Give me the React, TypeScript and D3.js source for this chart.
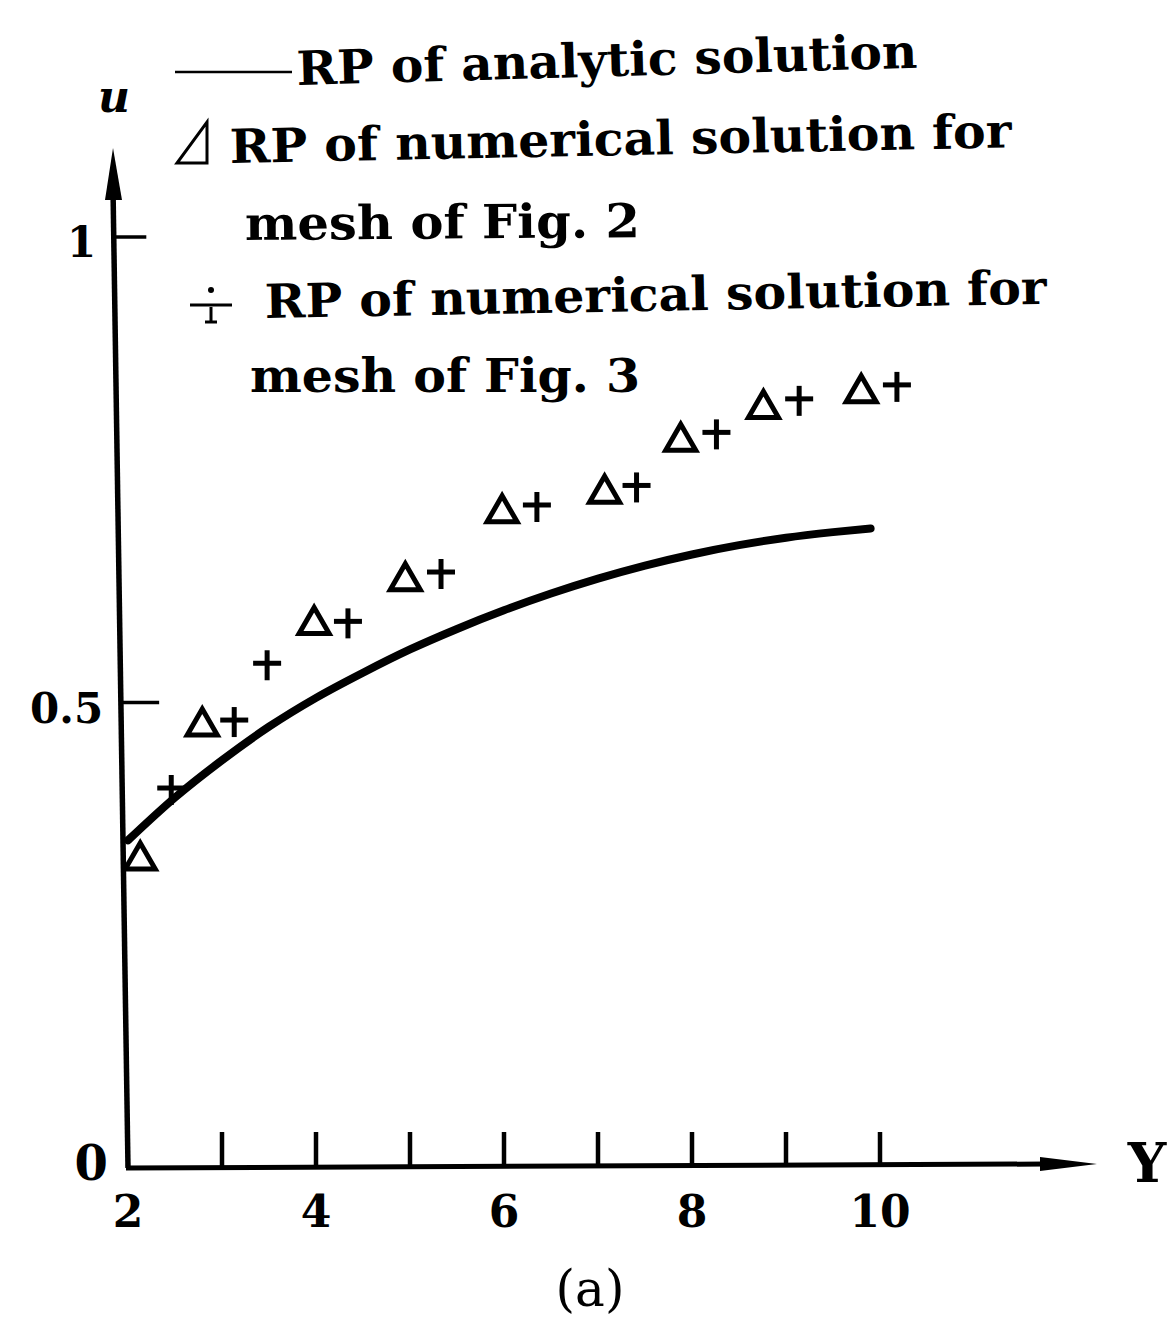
import React from "react";
import * as d3 from "d3";

// Analytic solution curve (RP vs Y)
const curveY = [2, 2.5, 3, 3.5, 4, 4.5, 5, 5.5, 6, 6.5, 7, 7.5, 8, 8.5, 9, 9.5, 9.9];
const curveU = [0.352, 0.398, 0.438, 0.474, 0.505, 0.532, 0.557, 0.579, 0.599, 0.617, 0.633, 0.647, 0.659, 0.669, 0.677, 0.683, 0.687];

// Numerical solution, mesh of Fig. 2 (triangles)
const triY = [2.13, 2.79, 3.98, 4.95, 5.98, 7.07, 7.88, 8.76, 9.8];
const triU = [0.335, 0.479, 0.588, 0.635, 0.708, 0.729, 0.785, 0.82, 0.837];

// Numerical solution, mesh of Fig. 3 (crosses)
const plusY = [2.46, 3.13, 3.48, 4.34, 5.33, 6.35, 7.41, 8.26, 9.14, 10.18];
const plusU = [0.406, 0.479, 0.54, 0.585, 0.638, 0.71, 0.731, 0.788, 0.824, 0.839];

// Axis ticks
const xTicks = [3, 4, 5, 6, 7, 8, 9, 10];
const xTickLabels = ["2", "4", "6", "8", "10"];
const yTickValues = [1, 0.5];
const yTickLabels = ["1", "0.5"];

// Legend texts
const legendLines = [
  "RP of analytic solution",
  "RP of numerical solution for",
  "mesh of Fig. 2",
  "RP of numerical solution for",
  "mesh of Fig. 3",
];

const W = 1171;
const H = 1322;
const serif = "'DejaVu Serif', 'Liberation Serif', serif";

export default function App() {
  const x = d3.scaleLinear().domain([2, 10]).range([128, 880]);
  const y = d3.scaleLinear().domain([0, 1]).range([1168, 237]);

  // the vertical axis leans slightly to the left toward its top
  const axisBottom = { x: x(2), y: y(0) };
  const axisTop = { x: x(2) - 15, y: 148 };
  const axisXAt = (py: number) =>
    axisBottom.x + ((axisBottom.y - py) / (axisBottom.y - axisTop.y)) * (axisTop.x - axisBottom.x);

  const line = d3
    .line<number>()
    .x((_, i) => x(curveY[i]))
    .y((d) => y(d))
    .curve(d3.curveMonotoneX);

  const triPath = (cx: number, cy: number) => {
    const w = 15, h = 13;
    return `M${cx - w},${cy + h}L${cx},${cy - h}L${cx + w},${cy + h}Z`;
  };

  const legendLayout = [
    { x: 297, y: 85, len: 621, rot: -1.6 },
    { x: 230, y: 163, len: 782, rot: -1.15 },
    { x: 245, y: 240, len: 395, rot: -0.4 },
    { x: 265, y: 318, len: 782, rot: -1.05 },
    { x: 250, y: 392, len: 390, rot: 0 },
  ];

  return (
    <svg
      width={W}
      height={H}
      viewBox={`0 0 ${W} ${H}`}
      style={{ position: "absolute", left: 0, top: 0, display: "block", background: "#fff" }}
    >
      <rect x={0} y={0} width={W} height={H} fill="#fff" />

      {/* vertical axis with arrow */}
      <line
        x1={axisBottom.x}
        y1={axisBottom.y}
        x2={axisTop.x}
        y2={axisTop.y + 40}
        stroke="#000"
        strokeWidth={5.5}
      />
      <path
        d={`M${axisTop.x},${axisTop.y}L${axisTop.x + 9},${axisTop.y + 52}L${axisTop.x - 8},${axisTop.y + 52}Z`}
        fill="#000"
      />
      {yTickValues.map((v) => {
        const py = y(v);
        const ax = axisXAt(py);
        return (
          <line key={v} x1={ax} y1={py} x2={ax + (v === 1 ? 32 : 38)} y2={py} stroke="#000" strokeWidth={3.5} />
        );
      })}
      {yTickValues.map((v, i) => (
        <text
          key={"yl" + v}
          x={axisXAt(y(v)) - 18}
          y={y(v) + 20}
          textAnchor="end"
          fontFamily={serif}
          fontWeight="bold"
          fontSize={42}
        >
          {yTickLabels[i]}
        </text>
      ))}
      <text x={108} y={1180} textAnchor="end" fontFamily={serif} fontWeight="bold" fontSize={48}>
        0
      </text>
      <text x={114} y={112} textAnchor="middle" fontFamily={serif} fontWeight="bold" fontStyle="italic" fontSize={44}>
        u
      </text>

      {/* horizontal axis with arrow */}
      <line x1={x(2) - 2} y1={y(0)} x2={1045} y2={y(0) - 4} stroke="#000" strokeWidth={5} />
      <path d={`M1097,${y(0) - 4}L1040,${y(0) - 11}L1040,${y(0) + 3}Z`} fill="#000" />
      {xTicks.map((t) => (
        <line key={t} x1={x(t)} y1={y(0) - 2} x2={x(t)} y2={y(0) - 36} stroke="#000" strokeWidth={4.5} />
      ))}
      {xTickLabels.map((l) => (
        <text
          key={l}
          x={x(+l)}
          y={1227}
          textAnchor="middle"
          fontFamily={serif}
          fontWeight="bold"
          fontSize={44}
        >
          {l}
        </text>
      ))}
      <text x={1147} y={1182} textAnchor="middle" fontFamily={serif} fontWeight="bold" fontSize={54}>
        Y
      </text>
      <text x={590} y={1306} textAnchor="middle" fontFamily={serif} fontSize={50}>
        (a)
      </text>

      {/* analytic curve */}
      <path d={line(curveU) || ""} fill="none" stroke="#000" strokeWidth={8} strokeLinecap="round" />

      {/* triangles */}
      {triY.map((v, i) => (
        <path
          key={"t" + i}
          d={triPath(x(v), y(triU[i]))}
          fill="none"
          stroke="#000"
          strokeWidth={5}
          strokeLinejoin="miter"
        />
      ))}

      {/* crosses */}
      {plusY.map((v, i) => {
        const cx = x(v), cy = y(plusU[i]);
        return (
          <g key={"p" + i} stroke="#000" strokeWidth={5}>
            <line x1={cx - 14} y1={cy - 2} x2={cx + 14} y2={cy - 2} />
            <line x1={cx} y1={cy - 15} x2={cx} y2={cy + 15} />
          </g>
        );
      })}

      {/* legend */}
      <line x1={175} y1={72} x2={292} y2={72} stroke="#000" strokeWidth={2.5} />
      <path d="M177,163L207,163L207,122Z" fill="none" stroke="#000" strokeWidth={3} />
      <g stroke="#000" strokeWidth={3}>
        <line x1={190} y1={305} x2={232} y2={305} />
        <line x1={211} y1={307} x2={211} y2={322} />
        <line x1={205} y1={322} x2={217} y2={322} />
      </g>
      <circle cx={211} cy={290} r={3} fill="#000" />
      {legendLines.map((t, i) => {
        const L = legendLayout[i];
        return (
          <text
            key={"lg" + i}
            x={L.x}
            y={L.y}
            transform={`rotate(${L.rot} ${L.x} ${L.y})`}
            fontFamily={serif}
            fontWeight="bold"
            fontSize={47}
            textLength={L.len}
            lengthAdjust="spacingAndGlyphs"
          >
            {t}
          </text>
        );
      })}
    </svg>
  );
}
